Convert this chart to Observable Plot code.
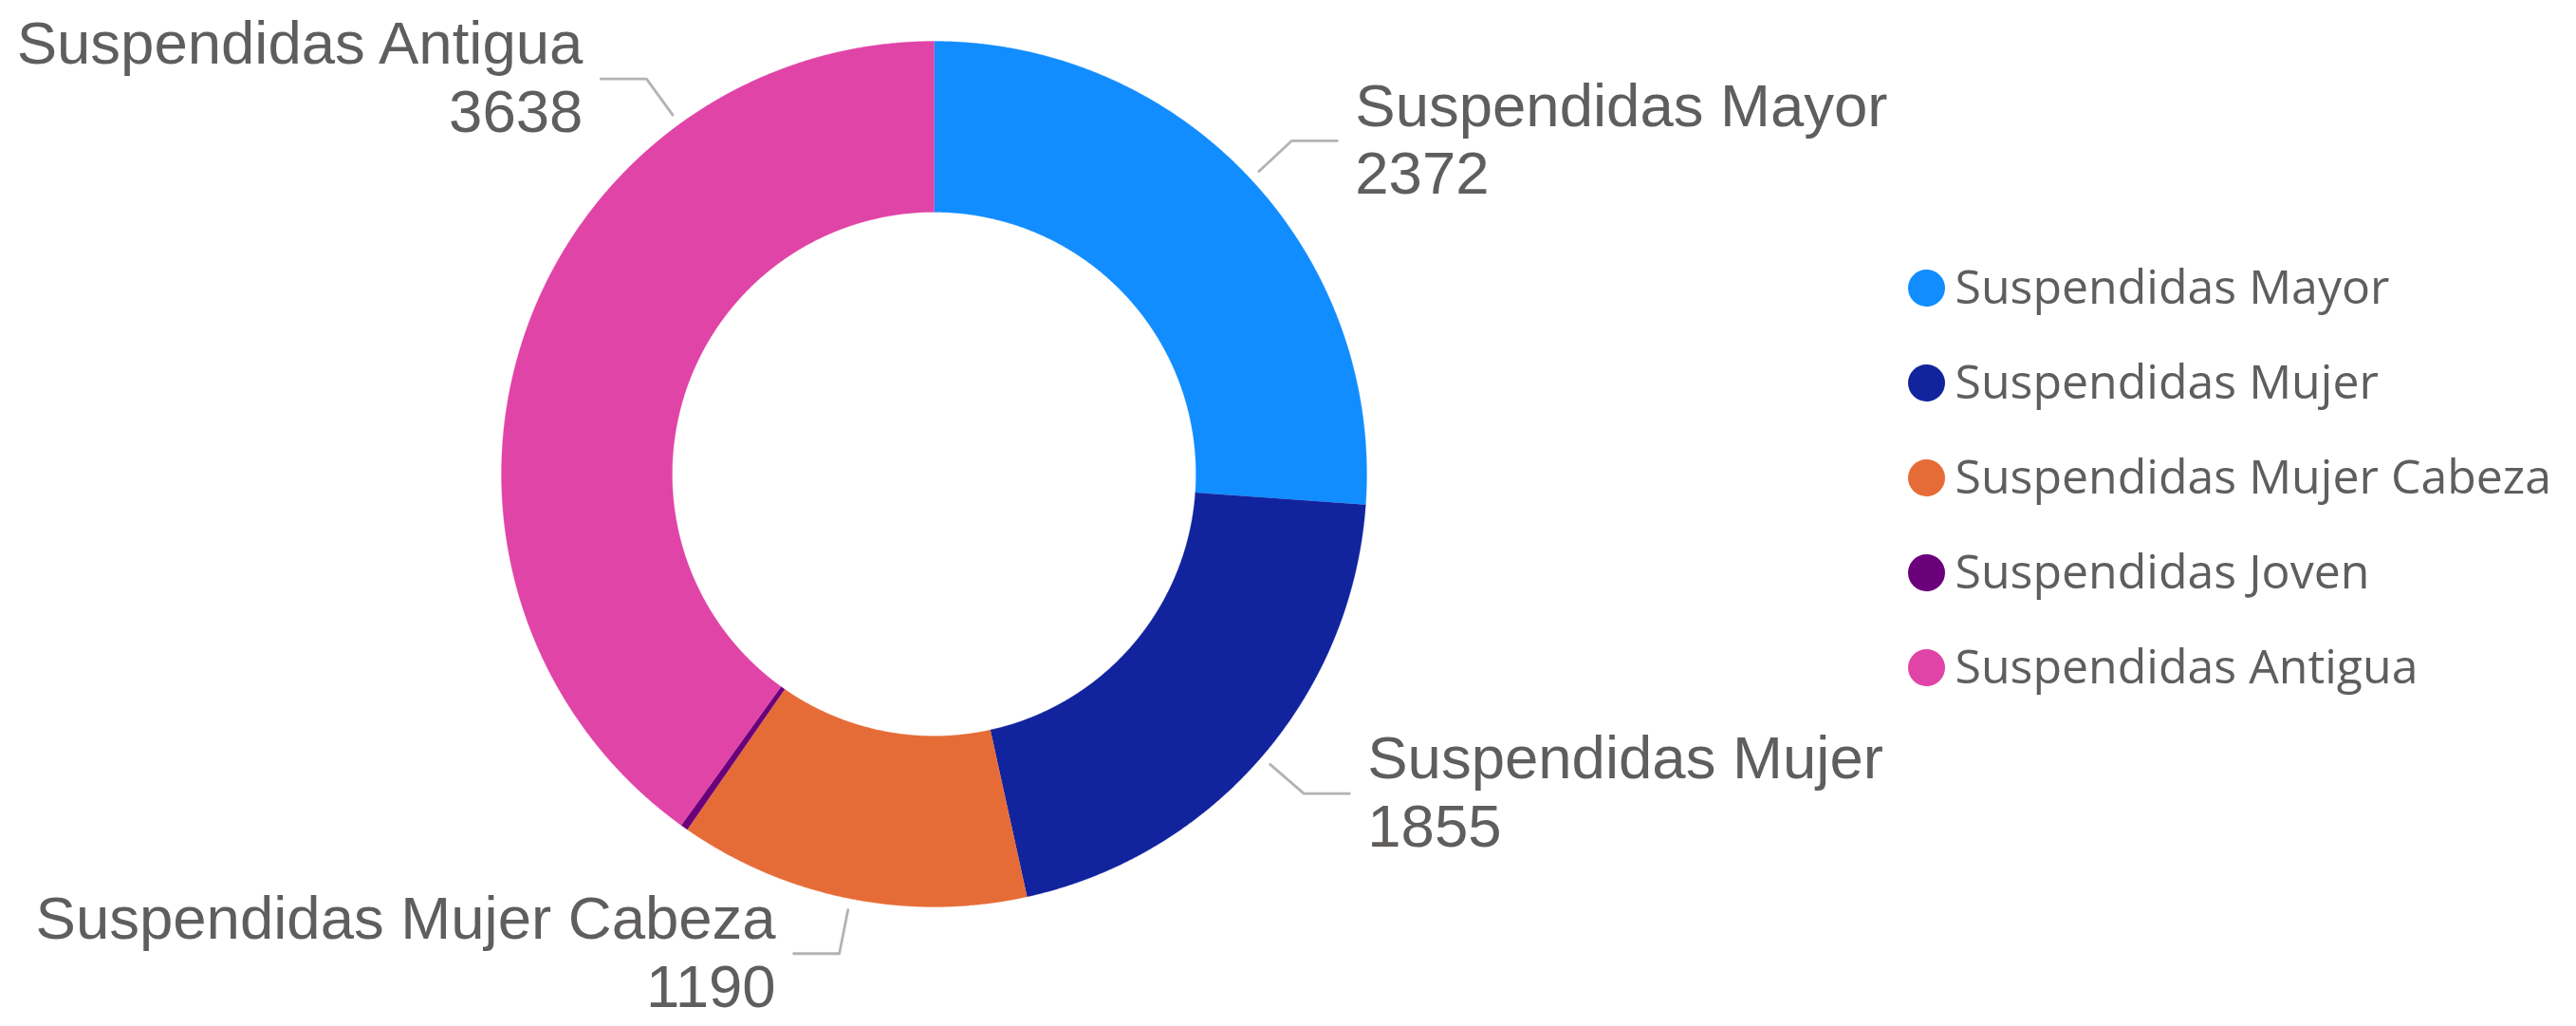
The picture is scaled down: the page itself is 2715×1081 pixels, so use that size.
<!DOCTYPE html>
<html><head><meta charset="utf-8">
<script src="https://cdn.jsdelivr.net/npm/d3@7"></script>
<script src="https://cdn.jsdelivr.net/npm/@observablehq/plot@0.6"></script>
<style>
body{margin:0;background:#fff;}
#wrap{position:relative;width:2715px;height:1081px;overflow:hidden;background:#fff;}
#chart{position:absolute;left:0;top:0;}
#legend{position:absolute;left:1990px;top:240px;}
</style></head><body>
<div id="wrap"><div id="chart"></div><div id="legend"></div></div>
<script>
// ---- data ----
const categories = ["Suspendidas Mayor","Suspendidas Mujer","Suspendidas Mujer Cabeza","Suspendidas Joven","Suspendidas Antigua"];
const values = [2372, 1855, 1190, 25, 3638];
const colors = ["#118DFF","#12239E","#E66C37","#6B007B","#E044A7"];
const showLabel = [true, true, true, false, true];

// ---- layout ----
const W = 2715, H = 1081, cx = 984, cy = 499, R = 456;
const innerR = 276 / R;             // in outer-radius units
const leadStart = 468 / R, leadElbow = 515 / R, leadRun = 48 / R, textGap = 19 / R;
const labelPos = {"Suspendidas Antigua": 0.75}; // fraction along the slice where the leader starts
const textColor = "#605E5C";

const arcs = d3.pie().sort(null).value(d => d)(values);

// slice polygons (angles clockwise from 12 o'clock, y upward)
const slicePts = [];
arcs.forEach((a, i) => {
  const cat = categories[i];
  const n = Math.max(2, Math.ceil((a.endAngle - a.startAngle) / 0.004));
  for (let k = 0; k <= n; k++) {
    const t = a.startAngle + (a.endAngle - a.startAngle) * k / n;
    slicePts.push({cat, x: Math.sin(t), y: Math.cos(t)});
  }
  for (let k = n; k >= 0; k--) {
    const t = a.startAngle + (a.endAngle - a.startAngle) * k / n;
    slicePts.push({cat, x: innerR * Math.sin(t), y: innerR * Math.cos(t)});
  }
});

// leader lines and labels
const leaderPts = [], labels = [];
arcs.forEach((a, i) => {
  if (!showLabel[i]) return;
  const cat = categories[i];
  const f = labelPos[cat] ?? 0.5;
  const t = a.startAngle + (a.endAngle - a.startAngle) * f;
  const s = Math.sin(t), c = Math.cos(t);
  const side = s >= 0 ? 1 : -1;
  const ex = leadElbow * s, ey = leadElbow * c;
  leaderPts.push({cat, x: leadStart * s, y: leadStart * c});
  leaderPts.push({cat, x: ex, y: ey});
  leaderPts.push({cat, x: ex + side * leadRun, y: ey});
  labels.push({cat, side, x: ex + side * (leadRun + textGap), y: ey, text: cat + "\n" + values[i]});
});

const color = {domain: categories, range: colors};
const labelFont = "'Liberation Sans', Arial, Helvetica, sans-serif";

const chart = Plot.plot({
  width: W, height: H,
  margin: 0,
  x: {domain: [-cx / R, (W - cx) / R], range: [0, W], axis: null},
  y: {domain: [-(H - cy) / R, cy / R], range: [H, 0], axis: null},
  color,
  style: {background: "transparent", overflow: "visible"},
  marks: [
    Plot.line(slicePts, {x: "x", y: "y", z: "cat", fill: "cat", stroke: "cat", strokeWidth: 0.3, curve: "linear"}),
    Plot.line(leaderPts, {x: "x", y: "y", z: "cat", stroke: "#B3B3B3", strokeWidth: 2.8, curve: "linear"}),
    Plot.text(labels.filter(d => d.side > 0), {x: "x", y: "y", text: "text", textAnchor: "start", lineAnchor: "middle",
      lineHeight: 1.13, fontSize: 63.5, fontFamily: labelFont, fill: textColor, dy: -3}),
    Plot.text(labels.filter(d => d.side < 0), {x: "x", y: "y", text: "text", textAnchor: "end", lineAnchor: "middle",
      lineHeight: 1.13, fontSize: 63.5, fontFamily: labelFont, fill: textColor, dy: -3})
  ]
});
document.getElementById("chart").append(chart);

const legendFont = "'Segoe UI', 'Open Sans', 'Noto Sans', sans-serif";
const legend = Plot.plot({
  width: 720, height: 520,
  margin: 0,
  y: {type: "point", domain: categories, range: [61, 464], padding: 0, axis: null},
  color,
  style: {background: "transparent", overflow: "visible"},
  marks: [
    Plot.dot(categories, {y: d => d, fill: d => d, r: 19.5, frameAnchor: "left", dx: 40, stroke: null}),
    Plot.text(categories, {y: d => d, text: d => d, frameAnchor: "left", dx: 70, textAnchor: "start",
      fontSize: 50, fontFamily: legendFont, fill: textColor})
  ]
});
document.getElementById("legend").append(legend);
</script>
</body></html>
